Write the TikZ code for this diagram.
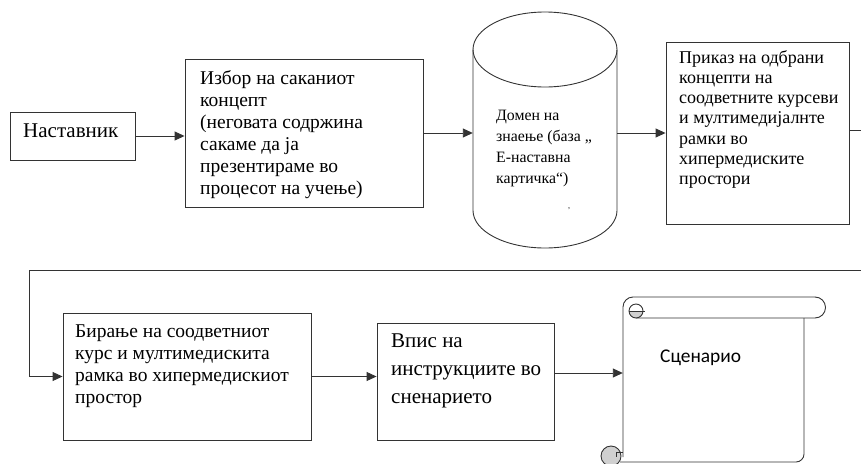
\documentclass[tikz,border=0pt]{standalone}
\usepackage{fontspec}
\setmainfont{Liberation Serif}
\newfontfamily\sansf{Carlito}
\usetikzlibrary{arrows.meta}
\definecolor{ln}{HTML}{333333}
\definecolor{curl}{HTML}{D0D0D0}
\tikzset{
  boxn/.style={draw=ln, line width=0.9pt, rectangle, inner sep=0pt},
  ghost/.style={rectangle, inner sep=0pt, draw=none},
  arr/.style={-{Triangle[length=10pt,width=9pt]}, line width=0.9pt, draw=ln},
  ln/.style={line width=0.9pt, draw=ln},
  txt/.style={anchor=base west, inner sep=0pt, align=left},
}
\begin{document}
\begin{tikzpicture}[x=1pt,y=-1pt]
\useasboundingbox (0,0) rectangle (861,463);
% boxes
\node[boxn, minimum width=125pt, minimum height=48pt] (nast) at (72.5,136) {};
\node[boxn, minimum width=238pt, minimum height=148pt] (izbor) at (304,133) {};
\node[ghost, minimum width=144pt, minimum height=236pt] (cyl) at (545,130) {};
\node[boxn, minimum width=183pt, minimum height=182pt] (prikaz) at (757.5,133) {};
\node[boxn, minimum width=248pt, minimum height=127pt] (birane) at (187,376.5) {};
\node[boxn, minimum width=177pt, minimum height=117pt] (vpis) at (465.5,381.5) {};
\node[ghost, minimum width=203pt, minimum height=166pt] (scroll) at (724.5,380) {};
% cylinder
\draw[ln] (473,49.5) -- (473,210.5) arc[start angle=180, end angle=360, x radius=72pt, y radius=37.5pt] -- (617,49.5);
\draw[ln] (545,49.5) ellipse[x radius=72pt, y radius=37.5pt];
% scroll
\draw[ln, rounded corners=10pt] (623,457) -- (623,297) -- (815,297);
\draw[ln] (815,297) arc[start angle=90, end angle=-90, radius=10.5pt] -- (636,318);
\draw[ln, rounded corners=8pt] (804,318) -- (804,462) -- (620,462);
\fill[curl] (629,311) arc[start angle=180, end angle=360, radius=7pt] -- cycle;
\draw[ln] (636,311) circle[radius=7pt];
\draw[ln] (629,311) -- (645,311);
\draw[ln, fill=curl] (611,456) circle[radius=10pt];
\draw[ln] (623,452) -- (616,452) -- (616,457);
% text (anchor at baseline of last line)
\node[txt, font=\fontsize{21}{25}\selectfont] (nast-t) at (23,137) {Наставник};
\node[txt, font=\fontsize{19.5}{22}\selectfont] (izbor-t) at (200,194) {Избор на саканиот\\концепт\\(неговата содржина\\сакаме да ја\\презентираме во\\процесот на учење)};
\node[txt, font=\fontsize{15.8}{21}\selectfont] (cyl-t) at (496,183) {Домен на\\знаење (база „\\Е-наставна\\картичка“)};
\node[txt, font=\fontsize{8}{8}\selectfont] (cyl-d) at (568,208) {,};
\node[txt, font=\fontsize{18}{20.3}\selectfont] (prikaz-t) at (679,184.8) {Приказ на одбрани\\концепти на\\соодветните курсеви\\и мултимедијалнте\\рамки во\\хипермедиските\\простори};
\node[txt, font=\fontsize{19.5}{22}\selectfont] (birane-t) at (75,403) {Бирање на соодветниот\\курс и мултимедискита\\рамка во хипермедискиот\\простор};
\node[txt, font=\fontsize{21}{28}\selectfont] (vpis-t) at (391,403) {Впис на\\инструкциите во\\сненарието};
\node[txt, font=\sansf\fontsize{19.4}{22}\selectfont] (scen-t) at (660,362) {Сценарио};
% connectors
\coordinate (e1) at (861,130);
\coordinate (e2) at (861,270);
\coordinate (a3) at (0,373);
\draw[arr] (nast.east) -- (nast.east -| izbor.west);
\draw[arr] (izbor.east) -- (izbor.east -| cyl.west);
\draw[arr] (prikaz.west -| cyl.east) -- (prikaz.west);
\draw[ln] (prikaz.east |- e1) -- (e1);
\draw[arr] (e2) -- (29,270) |- (birane.west);
\draw[arr] (birane.east) -- (birane.east -| vpis.west);
\draw[arr] (vpis.east |- a3) -- (scroll.west |- a3);
\end{tikzpicture}
\end{document}
